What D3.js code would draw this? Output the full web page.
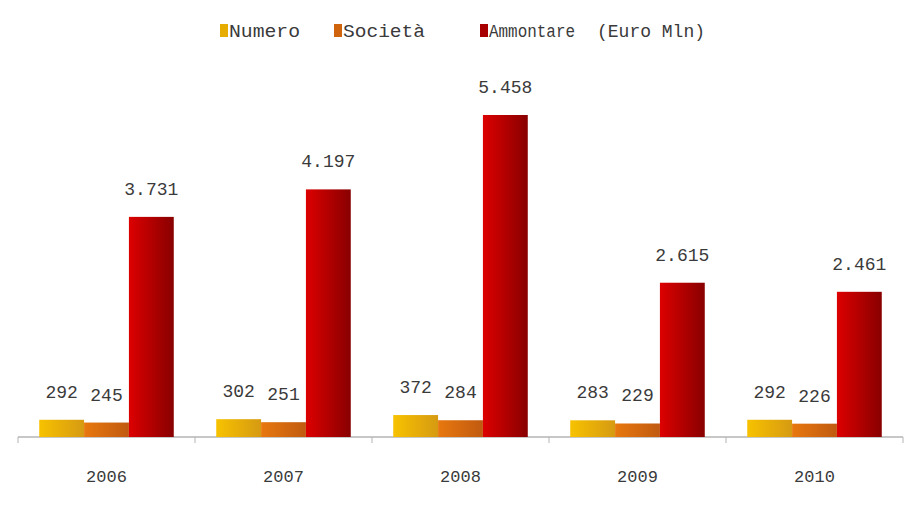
<!DOCTYPE html>
<html><head><meta charset="utf-8">
<script src="https://cdn.jsdelivr.net/npm/d3@7"></script>
<style>body{margin:0;background:#fff}svg{display:block}text{font-family:"Liberation Mono","DejaVu Sans Mono",monospace}</style>
</head><body><svg id="c" width="920" height="510"></svg>
<script>
const years = ["2006","2007","2008","2009","2010"];
const seriesNames = ["Numero","Società","Ammontare"];
const numero = [292,302,372,283,292];
const societa = [245,251,284,229,226];
const ammontare = [3731,4197,5458,2615,2461];
const labelFmt = v => v >= 1000 ? d3.format(",")(v).replace(",", ".") : String(v);

const svg = d3.select("#c");
const x0 = d3.scaleBand().domain(years).range([18, 903]).paddingInner(0.24).paddingOuter(0.12);
const x1 = d3.scaleBand().domain(seriesNames).range([0, x0.bandwidth()]);
const y = d3.scaleLinear().domain([0, 5458]).range([437, 115]);

const defs = svg.append("defs");
const grads = [
  ["g0", "#f7c200", "#d69a12"],
  ["g1", "#e8780e", "#c05a10"],
  ["g2", "#dd0000", "#880000"]
];
grads.forEach(([id, a, b]) => {
  const g = defs.append("linearGradient").attr("id", id).attr("x1","0").attr("x2","1").attr("y1","0").attr("y2","0");
  g.append("stop").attr("offset","0").attr("stop-color", a);
  g.append("stop").attr("offset","1").attr("stop-color", b);
});
const legendColors = ["#e6ac00", "#d0640c", "#a80000"];

const data = years.map((yr, i) => ({year: yr, vals: [numero[i], societa[i], ammontare[i]]}));

// axis
const axisG = svg.append("g").attr("transform", "translate(0,437)");
axisG.append("line").attr("x1", 18).attr("x2", 903).attr("stroke", "#b4b4b4").attr("stroke-width", 1.5);
const bounds = years.map(yr => x0(yr) - x0.step() * x0.paddingInner() / 2);
bounds.push(903);
bounds[0] = 18;
axisG.selectAll("line.tk").data(bounds).join("line").attr("class","tk")
  .attr("x1", d => d).attr("x2", d => d).attr("y1", 0).attr("y2", 6).attr("stroke", "#b4b4b4");

const groups = svg.selectAll("g.grp").data(data).join("g").attr("class","grp")
  .attr("transform", d => `translate(${x0(d.year)},0)`);
groups.selectAll("rect").data(d => d.vals.map((v, k) => ({v, k})))
  .join("rect")
  .attr("x", d => x1(seriesNames[d.k]))
  .attr("width", x1.bandwidth())
  .attr("y", d => y(d.v))
  .attr("height", d => 437 - y(d.v))
  .attr("fill", d => `url(#g${d.k})`);
groups.selectAll("text.lbl").data(d => d.vals.map((v, k) => ({v, k})))
  .join("text").attr("class","lbl")
  .attr("x", d => x1(seriesNames[d.k]) + x1.bandwidth() / 2)
  .attr("y", d => y(d.v) - 22)
  .attr("text-anchor", "middle")
  .attr("font-size", 18)
  .attr("fill", "#3a3a3a")
  .text(d => labelFmt(d.v));

svg.selectAll("text.yr").data(years).join("text").attr("class","yr")
  .attr("x", d => x0(d) + x0.bandwidth() / 2)
  .attr("y", 482)
  .attr("text-anchor", "middle")
  .attr("font-size", 17)
  .attr("fill", "#3a3a3a")
  .text(d => d);

// legend
const legendItems = [
  {name: "Numero", x: 220, len: 71},
  {name: "Società", x: 334, len: 82},
  {name: "Ammontare", x: 480, len: 86}
];
const lg = svg.append("g");
legendItems.forEach((it, i) => {
  lg.append("rect").attr("x", it.x).attr("y", 24).attr("width", 8).attr("height", 13).attr("fill", legendColors[i]);
  lg.append("text").attr("x", it.x + 9).attr("y", 37).attr("font-size", 18)
    .attr("textLength", it.len).attr("lengthAdjust", "spacingAndGlyphs")
    .attr("fill", "#3a3a3a").text(it.name);
});
lg.append("text").attr("x", 597).attr("y", 37).attr("font-size", 18).attr("textLength", 108)
  .attr("lengthAdjust", "spacingAndGlyphs").attr("fill", "#3a3a3a").text("(Euro Mln)");
</script></body></html>
